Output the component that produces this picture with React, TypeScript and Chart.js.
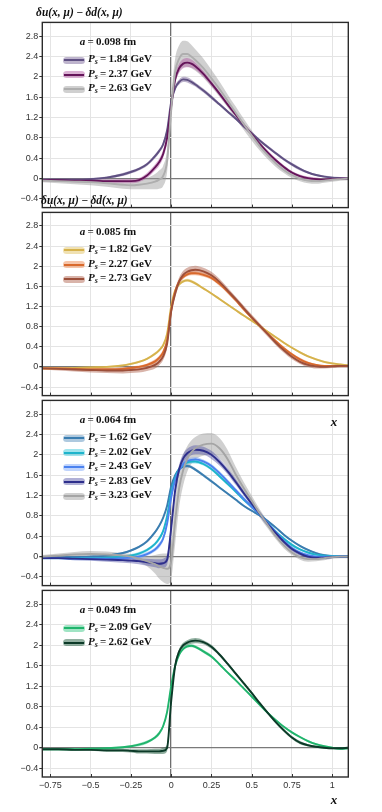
import React, { useEffect, useRef } from "react";
import { Chart, registerables } from "chart.js";

Chart.register(...registerables);

// ---------- data ----------
const xs = [-0.8, -0.7, -0.6, -0.5, -0.4, -0.3, -0.25, -0.2, -0.15, -0.1, -0.075, -0.05, -0.025, 0, 0.025, 0.05, 0.075, 0.1, 0.125, 0.15, 0.2, 0.25, 0.3, 0.35, 0.4, 0.45, 0.5, 0.55, 0.6, 0.65, 0.7, 0.75, 0.8, 0.85, 0.9, 0.95, 1.0, 1.05, 1.1];

const xTickValues = [-0.75, -0.5, -0.25, 0, 0.25, 0.5, 0.75, 1];
const yTickValues = [-0.4, 0, 0.4, 0.8, 1.2, 1.6, 2, 2.4, 2.8];

const latticeSpacings = ["0.098", "0.085", "0.064", "0.049"];
const momentaA098 = ["1.84", "2.37", "2.63"];
const momentaA085 = ["1.82", "2.27", "2.73"];
const momentaA064 = ["1.62", "2.02", "2.43", "2.83", "3.23"];
const momentaA049 = ["2.09", "2.62"];

// a = 0.098 fm
const a098_184 = [-0.02, -0.02, -0.02, -0.01, 0.02, 0.08, 0.13, 0.19, 0.28, 0.44, 0.54, 0.67, 0.95, 1.5, 1.78, 1.9, 1.95, 1.94, 1.9, 1.85, 1.73, 1.6, 1.46, 1.32, 1.18, 1.03, 0.89, 0.75, 0.62, 0.5, 0.38, 0.28, 0.19, 0.12, 0.07, 0.04, 0.02, 0.01, 0.0];
const a098_184_err = [0.02, 0.02, 0.02, 0.02, 0.02, 0.03, 0.03, 0.03, 0.03, 0.04, 0.04, 0.05, 0.06, 0.06, 0.05, 0.05, 0.05, 0.05, 0.05, 0.04, 0.04, 0.04, 0.03, 0.03, 0.03, 0.03, 0.03, 0.03, 0.03, 0.03, 0.03, 0.03, 0.03, 0.02, 0.02, 0.02, 0.02, 0.02, 0.02];
const a098_237 = [-0.03, -0.03, -0.04, -0.04, -0.05, -0.05, -0.05, -0.03, 0.06, 0.22, 0.32, 0.48, 0.8, 1.42, 1.95, 2.17, 2.26, 2.28, 2.26, 2.21, 2.06, 1.87, 1.67, 1.46, 1.26, 1.06, 0.87, 0.68, 0.51, 0.36, 0.23, 0.12, 0.05, 0.01, -0.01, -0.02, -0.01, 0.0, 0.0];
const a098_237_err = [0.02, 0.02, 0.03, 0.03, 0.03, 0.04, 0.04, 0.04, 0.05, 0.06, 0.07, 0.08, 0.1, 0.1, 0.09, 0.09, 0.09, 0.09, 0.08, 0.07, 0.06, 0.05, 0.04, 0.04, 0.04, 0.04, 0.04, 0.04, 0.04, 0.04, 0.03, 0.03, 0.03, 0.03, 0.03, 0.02, 0.02, 0.02, 0.02];
const a098_263 = [-0.04, -0.05, -0.06, -0.07, -0.09, -0.12, -0.13, -0.12, -0.1, -0.06, -0.02, 0.05, 0.35, 1.35, 2.1, 2.36, 2.45, 2.45, 2.4, 2.33, 2.17, 1.97, 1.76, 1.53, 1.3, 1.07, 0.85, 0.64, 0.46, 0.3, 0.17, 0.07, 0.0, -0.04, -0.05, -0.04, -0.02, -0.01, 0.0];
const a098_263_err = [0.03, 0.04, 0.05, 0.06, 0.07, 0.08, 0.08, 0.09, 0.11, 0.15, 0.18, 0.2, 0.22, 0.25, 0.26, 0.26, 0.26, 0.25, 0.23, 0.21, 0.19, 0.17, 0.15, 0.13, 0.12, 0.11, 0.1, 0.09, 0.08, 0.07, 0.06, 0.06, 0.05, 0.05, 0.05, 0.04, 0.04, 0.03, 0.03];

// a = 0.085 fm
const a085_182 = [-0.03, -0.03, -0.02, -0.01, 0.0, 0.03, 0.06, 0.1, 0.16, 0.26, 0.33, 0.43, 0.66, 1.2, 1.52, 1.64, 1.7, 1.72, 1.7, 1.66, 1.56, 1.46, 1.35, 1.24, 1.13, 1.02, 0.92, 0.81, 0.7, 0.59, 0.48, 0.38, 0.29, 0.21, 0.15, 0.1, 0.07, 0.05, 0.03];
const a085_182_err = [0.02, 0.02, 0.02, 0.02, 0.02, 0.02, 0.02, 0.02, 0.02, 0.03, 0.03, 0.03, 0.04, 0.04, 0.03, 0.03, 0.03, 0.03, 0.03, 0.03, 0.02, 0.02, 0.02, 0.02, 0.02, 0.02, 0.02, 0.02, 0.02, 0.02, 0.02, 0.02, 0.02, 0.02, 0.02, 0.02, 0.02, 0.02, 0.02];
const a085_227 = [-0.03, -0.03, -0.04, -0.05, -0.05, -0.04, -0.02, 0.0, 0.04, 0.11, 0.18, 0.29, 0.53, 1.12, 1.5, 1.7, 1.79, 1.84, 1.86, 1.86, 1.83, 1.77, 1.65, 1.5, 1.33, 1.15, 0.98, 0.82, 0.66, 0.51, 0.37, 0.25, 0.15, 0.08, 0.04, 0.02, 0.02, 0.02, 0.02];
const a085_227_err = [0.02, 0.02, 0.02, 0.03, 0.03, 0.03, 0.03, 0.03, 0.03, 0.04, 0.04, 0.05, 0.05, 0.05, 0.05, 0.04, 0.04, 0.04, 0.04, 0.04, 0.04, 0.04, 0.04, 0.03, 0.03, 0.03, 0.03, 0.03, 0.03, 0.03, 0.03, 0.03, 0.03, 0.03, 0.02, 0.02, 0.02, 0.02, 0.02];
const a085_273 = [-0.03, -0.04, -0.05, -0.06, -0.07, -0.07, -0.06, -0.05, -0.02, 0.04, 0.1, 0.21, 0.46, 1.1, 1.46, 1.7, 1.83, 1.89, 1.92, 1.93, 1.9, 1.82, 1.69, 1.52, 1.35, 1.17, 0.99, 0.82, 0.65, 0.48, 0.33, 0.2, 0.1, 0.04, 0.01, 0.0, 0.01, 0.02, 0.02];
const a085_273_err = [0.02, 0.03, 0.04, 0.05, 0.05, 0.06, 0.06, 0.06, 0.06, 0.07, 0.07, 0.08, 0.08, 0.08, 0.08, 0.08, 0.08, 0.08, 0.08, 0.08, 0.07, 0.07, 0.06, 0.06, 0.05, 0.05, 0.05, 0.05, 0.05, 0.05, 0.05, 0.05, 0.04, 0.04, 0.04, 0.03, 0.03, 0.03, 0.03];

// a = 0.064 fm
const a064_162 = [-0.02, -0.02, -0.01, 0.0, 0.02, 0.07, 0.12, 0.19, 0.3, 0.48, 0.6, 0.76, 1.0, 1.38, 1.6, 1.72, 1.77, 1.78, 1.76, 1.71, 1.6, 1.48, 1.36, 1.24, 1.12, 1.0, 0.9, 0.81, 0.7, 0.57, 0.43, 0.31, 0.21, 0.13, 0.07, 0.03, 0.01, 0.0, 0.0];
const a064_162_err = [0.02, 0.02, 0.02, 0.02, 0.02, 0.02, 0.02, 0.02, 0.03, 0.03, 0.03, 0.03, 0.03, 0.03, 0.03, 0.03, 0.03, 0.03, 0.03, 0.03, 0.03, 0.03, 0.02, 0.02, 0.02, 0.02, 0.02, 0.02, 0.02, 0.02, 0.02, 0.02, 0.02, 0.02, 0.02, 0.02, 0.02, 0.02, 0.02];
const a064_202 = [-0.03, -0.03, -0.03, -0.03, -0.02, 0.0, 0.02, 0.06, 0.13, 0.25, 0.35, 0.5, 0.8, 1.25, 1.55, 1.72, 1.8, 1.85, 1.87, 1.87, 1.82, 1.72, 1.58, 1.43, 1.28, 1.12, 0.98, 0.83, 0.66, 0.49, 0.35, 0.23, 0.14, 0.08, 0.04, 0.02, 0.01, 0.0, 0.0];
const a064_202_err = [0.02, 0.02, 0.02, 0.02, 0.02, 0.02, 0.03, 0.03, 0.03, 0.03, 0.04, 0.04, 0.04, 0.04, 0.04, 0.04, 0.04, 0.04, 0.04, 0.04, 0.03, 0.03, 0.03, 0.03, 0.03, 0.03, 0.03, 0.03, 0.03, 0.03, 0.03, 0.03, 0.02, 0.02, 0.02, 0.02, 0.02, 0.02, 0.02];
const a064_243 = [-0.03, -0.03, -0.04, -0.04, -0.04, -0.03, -0.02, 0.0, 0.05, 0.14, 0.22, 0.35, 0.65, 1.15, 1.5, 1.7, 1.82, 1.88, 1.9, 1.91, 1.87, 1.78, 1.64, 1.48, 1.31, 1.14, 0.98, 0.83, 0.66, 0.48, 0.31, 0.17, 0.08, 0.03, 0.0, 0.0, 0.0, 0.0, 0.0];
const a064_243_err = [0.02, 0.02, 0.03, 0.03, 0.03, 0.03, 0.03, 0.04, 0.04, 0.04, 0.05, 0.05, 0.05, 0.05, 0.05, 0.05, 0.05, 0.05, 0.05, 0.05, 0.04, 0.04, 0.04, 0.04, 0.04, 0.04, 0.04, 0.04, 0.03, 0.03, 0.03, 0.03, 0.03, 0.03, 0.02, 0.02, 0.02, 0.02, 0.02];
const a064_283 = [-0.03, -0.03, -0.04, -0.05, -0.06, -0.07, -0.08, -0.09, -0.11, -0.13, -0.14, -0.13, -0.06, 0.55, 1.3, 1.72, 1.93, 2.03, 2.08, 2.1, 2.08, 2.0, 1.86, 1.68, 1.47, 1.25, 1.04, 0.84, 0.64, 0.46, 0.29, 0.15, 0.06, 0.0, -0.02, -0.02, -0.01, 0.0, 0.0];
const a064_283_err = [0.02, 0.02, 0.03, 0.03, 0.04, 0.05, 0.05, 0.06, 0.07, 0.08, 0.09, 0.09, 0.1, 0.12, 0.1, 0.09, 0.09, 0.09, 0.09, 0.09, 0.08, 0.08, 0.07, 0.06, 0.06, 0.05, 0.05, 0.05, 0.05, 0.04, 0.04, 0.04, 0.04, 0.03, 0.03, 0.03, 0.02, 0.02, 0.02];
const a064_323 = [0.0, 0.02, 0.04, 0.05, 0.04, 0.02, 0.0, -0.04, -0.09, -0.15, -0.19, -0.22, -0.24, -0.1, 0.7, 1.35, 1.7, 1.92, 2.05, 2.13, 2.2, 2.22, 2.13, 1.92, 1.62, 1.35, 1.1, 0.85, 0.62, 0.4, 0.22, 0.08, -0.01, -0.05, -0.05, -0.03, -0.01, 0.0, 0.0];
const a064_323_err = [0.03, 0.04, 0.05, 0.06, 0.06, 0.05, 0.05, 0.07, 0.1, 0.18, 0.24, 0.28, 0.3, 0.35, 0.45, 0.38, 0.3, 0.25, 0.23, 0.22, 0.22, 0.21, 0.2, 0.18, 0.15, 0.12, 0.1, 0.08, 0.07, 0.06, 0.06, 0.05, 0.05, 0.05, 0.04, 0.04, 0.03, 0.03, 0.03];

// a = 0.049 fm
const a049_209 = [-0.03, -0.03, -0.03, -0.02, -0.01, 0.01, 0.03, 0.06, 0.11, 0.2, 0.28, 0.42, 0.7, 1.2, 1.6, 1.82, 1.93, 1.98, 1.99, 1.97, 1.88, 1.78, 1.63, 1.47, 1.32, 1.16, 1.0, 0.84, 0.68, 0.54, 0.41, 0.3, 0.21, 0.13, 0.07, 0.03, 0.0, -0.02, -0.01];
const a049_209_err = [0.02, 0.02, 0.02, 0.02, 0.02, 0.02, 0.02, 0.03, 0.03, 0.03, 0.04, 0.04, 0.05, 0.05, 0.04, 0.03, 0.03, 0.03, 0.03, 0.03, 0.03, 0.03, 0.02, 0.02, 0.02, 0.02, 0.02, 0.02, 0.02, 0.02, 0.02, 0.02, 0.02, 0.02, 0.02, 0.02, 0.02, 0.02, 0.02];
const a049_262 = [-0.03, -0.03, -0.04, -0.04, -0.05, -0.05, -0.06, -0.07, -0.07, -0.07, -0.07, -0.06, 0.0, 0.9, 1.6, 1.88, 2.0, 2.05, 2.08, 2.09, 2.06, 1.97, 1.82, 1.64, 1.45, 1.26, 1.07, 0.87, 0.68, 0.5, 0.34, 0.2, 0.1, 0.05, 0.02, 0.0, -0.01, -0.01, 0.0];
const a049_262_err = [0.02, 0.02, 0.02, 0.02, 0.03, 0.03, 0.03, 0.04, 0.04, 0.05, 0.05, 0.06, 0.07, 0.07, 0.05, 0.05, 0.05, 0.05, 0.05, 0.05, 0.04, 0.04, 0.03, 0.03, 0.03, 0.03, 0.03, 0.03, 0.03, 0.03, 0.03, 0.03, 0.03, 0.02, 0.02, 0.02, 0.02, 0.02, 0.02];

// ---------- styling / layout ----------
type Series = { ps: string; mean: number[]; err: number[]; line: string; band: string };
type PanelCfg = { a: string; series: Series[]; top: number; bottom: number };

const panels: PanelCfg[] = [
  {
    a: latticeSpacings[0], top: 20, bottom: 210,
    series: [
      { ps: momentaA098[0], mean: a098_184, err: a098_184_err, line: "#5f5082", band: "rgba(125,105,155,0.5)" },
      { ps: momentaA098[1], mean: a098_237, err: a098_237_err, line: "#65155a", band: "rgba(175,85,160,0.45)" },
      { ps: momentaA098[2], mean: a098_263, err: a098_263_err, line: "#aeaeae", band: "rgba(150,150,150,0.45)" },
    ],
  },
  {
    a: latticeSpacings[1], top: 210, bottom: 398,
    series: [
      { ps: momentaA085[0], mean: a085_182, err: a085_182_err, line: "#d6b24c", band: "rgba(228,200,115,0.55)" },
      { ps: momentaA085[1], mean: a085_227, err: a085_227_err, line: "#d9692c", band: "rgba(238,140,85,0.5)" },
      { ps: momentaA085[2], mean: a085_273, err: a085_273_err, line: "#9c4f3a", band: "rgba(180,105,85,0.5)" },
    ],
  },
  {
    a: latticeSpacings[2], top: 398, bottom: 588,
    series: [
      { ps: momentaA064[0], mean: a064_162, err: a064_162_err, line: "#3a7db0", band: "rgba(75,135,185,0.45)" },
      { ps: momentaA064[1], mean: a064_202, err: a064_202_err, line: "#1eb4cc", band: "rgba(45,195,215,0.45)" },
      { ps: momentaA064[2], mean: a064_243, err: a064_243_err, line: "#4b82ef", band: "rgba(130,170,250,0.5)" },
      { ps: momentaA064[3], mean: a064_283, err: a064_283_err, line: "#2e2f8c", band: "rgba(80,80,165,0.45)" },
      { ps: momentaA064[4], mean: a064_323, err: a064_323_err, line: "#a5a5a5", band: "rgba(150,150,150,0.45)" },
    ],
  },
  {
    a: latticeSpacings[3], top: 588, bottom: 777,
    series: [
      { ps: momentaA049[0], mean: a049_209, err: a049_209_err, line: "#20b46c", band: "rgba(45,195,125,0.45)" },
      { ps: momentaA049[1], mean: a049_262, err: a049_262_err, line: "#0c3a28", band: "rgba(35,95,65,0.5)" },
    ],
  },
];

const PLOT_LEFT = 42.3;
const PLOT_RIGHT = 348.3;
const W = 382;
const PAD = 4;
const SERIF = "'Liberation Serif', 'DejaVu Serif', serif";
const SANS = "'Liberation Sans', Arial, sans-serif";

function fmt(v: number) {
  const s = String(Number(v.toFixed(2)));
  return v < 0 ? "\u2212" + s.slice(1) : s;
}

const framePlugin = {
  id: "frame",
  afterDatasetsDraw(chart: any) {
    const { ctx, chartArea } = chart;
    const xs_ = chart.scales.x;
    ctx.save();
    ctx.strokeStyle = "#333";
    ctx.lineWidth = 1;
    xTickValues.forEach((v) => {
      const px = Math.round(xs_.getPixelForValue(v)) + 0.5;
      ctx.beginPath();
      ctx.moveTo(px, chartArea.bottom);
      ctx.lineTo(px, chartArea.bottom - 3);
      ctx.stroke();
    });
    ctx.strokeStyle = "#2b2b2b";
    ctx.lineWidth = 1.4;
    ctx.strokeRect(chartArea.left, chartArea.top, chartArea.right - chartArea.left, chartArea.bottom - chartArea.top);
    ctx.restore();
  },
};

function PanelChart({ cfg, last }: { cfg: PanelCfg; last: boolean }) {
  const ref = useRef<HTMLCanvasElement>(null);
  const canvasTop = cfg.top - PAD;
  const xAxisH = last ? 812 - cfg.bottom : 0;
  const H = cfg.bottom - cfg.top + PAD + (last ? xAxisH : PAD);

  useEffect(() => {
    if (!ref.current) return;
    const datasets: any[] = [];
    cfg.series.forEach((s) => {
      datasets.push({
        data: xs.map((x, i) => ({ x, y: s.mean[i] + s.err[i] })),
        borderColor: "transparent", borderWidth: 0, pointRadius: 0,
        backgroundColor: s.band, fill: "+1", cubicInterpolationMode: "monotone", order: 2, clip: 0,
      });
      datasets.push({
        data: xs.map((x, i) => ({ x, y: s.mean[i] - s.err[i] })),
        borderColor: "transparent", borderWidth: 0, pointRadius: 0,
        fill: false, cubicInterpolationMode: "monotone", order: 2, clip: 0,
      });
    });
    [...cfg.series].reverse().forEach((s) => {
      datasets.push({
        data: xs.map((x, i) => ({ x, y: s.mean[i] })),
        borderColor: s.line, borderWidth: 1.9, pointRadius: 0,
        fill: false, cubicInterpolationMode: "monotone", order: 1, clip: 0,
      });
    });

    const chart = new Chart(ref.current, {
      type: "line",
      data: { datasets },
      plugins: [framePlugin],
      options: {
        animation: false,
        responsive: false,
        devicePixelRatio: 1,
        events: [],
        layout: { padding: { left: 0, right: W - PLOT_RIGHT, top: PAD, bottom: last ? 0 : PAD } },
        plugins: { legend: { display: false }, tooltip: { enabled: false } },
        scales: {
          x: {
            type: "linear", min: -0.8, max: 1.1,
            afterBuildTicks: (s: any) => { s.ticks = xTickValues.map((v) => ({ value: v })); },
            afterFit: (s: any) => { s.height = xAxisH; },
            border: { display: false },
            grid: {
              drawTicks: false,
              color: (c: any) => (c.tick && c.tick.value === 0 ? "#6e6e6e" : "#e4e4e4"),
              lineWidth: (c: any) => (c.tick && c.tick.value === 0 ? 1.3 : 1),
            },
            ticks: {
              display: last, padding: 3, color: "#333",
              font: { family: SANS, size: 9 },
              callback: (v: any) => fmt(Number(v)),
              maxRotation: 0, autoSkip: false,
            },
          },
          y: {
            type: "linear", min: -0.57, max: 3.07,
            afterBuildTicks: (s: any) => { s.ticks = yTickValues.map((v) => ({ value: v })); },
            afterFit: (s: any) => { s.width = PLOT_LEFT; },
            border: { display: false },
            grid: {
              drawTicks: true, tickLength: 3, tickColor: "#333",
              color: (c: any) => (c.tick && c.tick.value === 0 ? "#7a7a7a" : "#e4e4e4"),
              lineWidth: (c: any) => (c.tick && c.tick.value === 0 ? 1.3 : 1),
            },
            ticks: {
              padding: 1, color: "#333",
              font: { family: SANS, size: 9 },
              callback: (v: any) => fmt(Number(v)),
              autoSkip: false,
            },
          },
        },
      } as any,
    });
    return () => chart.destroy();
  }, []);

  return (
    <canvas
      ref={ref}
      width={W}
      height={H}
      style={{ position: "absolute", left: 0, top: canvasTop, width: W, height: H }}
    />
  );
}

function Legend({ cfg }: { cfg: PanelCfg }) {
  const T = cfg.top;
  const textStyle: React.CSSProperties = {
    position: "absolute", whiteSpace: "nowrap", fontFamily: SERIF, fontWeight: "bold",
    fontSize: 11, color: "#111", lineHeight: "12px",
  };
  return (
    <>
      <div style={{ ...textStyle, left: 108, top: T + 21, transform: "translate(-50%, -50%)" }}>
        <i>a</i>&thinsp;=&thinsp;{cfg.a} fm
      </div>
      {cfg.series.map((s, i) => {
        const cy = T + 40 + 14.6 * i;
        return (
          <React.Fragment key={i}>
            <div style={{ position: "absolute", left: 63, top: cy - 3.5, width: 22, height: 7, borderRadius: 3.5, background: s.band }} />
            <div style={{ position: "absolute", left: 64, top: cy - 1, width: 20, height: 2, background: s.line }} />
            <div style={{ ...textStyle, left: 88, top: cy, transform: "translateY(-50%)" }}>
              <i>P</i><sub style={{ fontSize: 8, verticalAlign: "-2px", fontStyle: "italic" }}>s</sub>&thinsp;=&thinsp;{s.ps} GeV
            </div>
          </React.Fragment>
        );
      })}
    </>
  );
}

const yLabelStyle: React.CSSProperties = {
  position: "absolute", whiteSpace: "nowrap", fontFamily: SERIF, fontWeight: "bold",
  fontStyle: "italic", fontSize: 11.5, color: "#111", lineHeight: "13px", transform: "translateY(-50%)",
};
const xLabelStyle: React.CSSProperties = {
  position: "absolute", whiteSpace: "nowrap", fontFamily: SERIF, fontWeight: "bold",
  fontStyle: "italic", fontSize: 13, color: "#111", lineHeight: "14px", transform: "translate(-50%, -50%)",
};

export default function App() {
  return (
    <div style={{ position: "fixed", left: 0, top: 0, width: W, height: 812, background: "#fff", overflow: "hidden" }}>
      {panels.map((p, i) => (
        <PanelChart key={i} cfg={p} last={i === panels.length - 1} />
      ))}
      {panels.map((p, i) => (
        <Legend key={"l" + i} cfg={p} />
      ))}
      <div style={{ ...yLabelStyle, left: 36, top: 11.5 }}>δu(x, μ)&thinsp;−&thinsp;δd(x, μ)</div>
      <div style={{ ...yLabelStyle, left: 41, top: 200 }}>δu(x, μ)&thinsp;−&thinsp;δd(x, μ)</div>
      <div style={{ ...xLabelStyle, left: 334, top: 421.5 }}>x</div>
      <div style={{ ...xLabelStyle, left: 334, top: 800 }}>x</div>
    </div>
  );
}
